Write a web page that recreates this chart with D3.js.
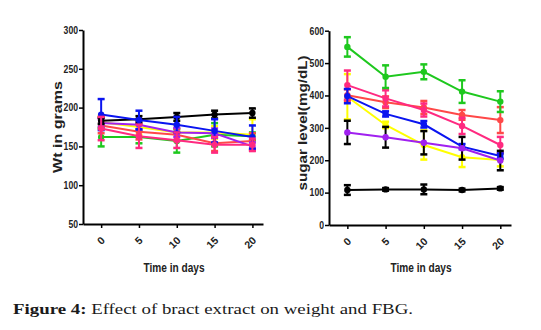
<!DOCTYPE html>
<html>
<head>
<meta charset="utf-8">
<script src="https://cdn.jsdelivr.net/npm/d3@7"></script>
<style>
  body { margin: 0; background: #fff; }
  svg { display: block; }
</style>
</head>
<body>
<div id="wrapper"></div>
<script>
// 1. Data
const days = [0, 5, 10, 15, 20]

// weight (g), mean and error
const wtBlack = [183, 185, 188, 191, 193]
const wtBlackErr = [4, 4, 5, 5, 6]
const wtBlue = [191, 184, 178, 170, 162]
const wtBlueErr = [20, 12, 10, 15, 15]
const wtYellow = [181, 175, 168, 168, 165]
const wtYellowErr = [8, 10, 10, 8, 20]
const wtPurple = [180, 178, 168, 167, 150]
const wtPurpleErr = [5, 6, 6, 6, 5]
const wtGreen = [162, 162, 157, 165, 163]
const wtGreenErr = [12, 8, 15, 15, 5]
const wtRed = [177, 169, 165, 154, 157]
const wtRedErr = [10, 10, 8, 10, 10]
const wtPink = [173, 163, 158, 152, 152]
const wtPinkErr = [15, 15, 10, 10, 8]

// sugar level (mg/dL), mean and error
const sgGreen = [550, 458, 473, 412, 381]
const sgGreenErr = [30, 35, 23, 35, 32]
const sgPink = [432, 391, 355, 306, 247]
const sgPinkErr = [45, 25, 20, 25, 25]
const sgRed = [401, 379, 363, 340, 324]
const sgRedErr = [18, 18, 20, 15, 40]
const sgBlue = [398, 343, 311, 242, 213]
const sgBlueErr = [22, 8, 10, 8, 8]
const sgYellow = [396, 309, 247, 209, 201]
const sgYellowErr = [70, 10, 45, 30, 20]
const sgPurple = [286, 271, 254, 237, 199]
const sgPurpleErr = [36, 32, 36, 35, 30]
const sgBlack = [108, 110, 110, 108, 113]
const sgBlackErr = [15, 4, 15, 4, 4]

const colors = {
  black: "#000000",
  blue: "#0a14f0",
  yellow: "#ffff00",
  purple: "#a020f0",
  green: "#1ec81e",
  red: "#ff4848",
  pink: "#ff2a80",
}

const wtSeries = [
  { color: colors.yellow, values: wtYellow, err: wtYellowErr },
  { color: colors.green, values: wtGreen, err: wtGreenErr },
  { color: colors.red, values: wtRed, err: wtRedErr },
  { color: colors.purple, values: wtPurple, err: wtPurpleErr },
  { color: colors.black, values: wtBlack, err: wtBlackErr },
  { color: colors.blue, values: wtBlue, err: wtBlueErr },
  { color: colors.pink, values: wtPink, err: wtPinkErr },
]

const sgSeries = [
  { color: colors.yellow, values: sgYellow, err: sgYellowErr },
  { color: colors.red, values: sgRed, err: sgRedErr },
  { color: colors.pink, values: sgPink, err: sgPinkErr },
  { color: colors.green, values: sgGreen, err: sgGreenErr },
  { color: colors.blue, values: sgBlue, err: sgBlueErr },
  { color: colors.purple, values: sgPurple, err: sgPurpleErr, errColor: colors.black },
  { color: colors.black, values: sgBlack, err: sgBlackErr },
]

// 2. Canvas
const width = 541
const height = 330

const svg = d3
  .select("#wrapper")
  .append("svg")
  .attr("width", width)
  .attr("height", height)

const axisFont = "'Liberation Sans', Arial, sans-serif"

function drawPanel(opts) {
  const g = svg.append("g")

  const xScale = d3
    .scaleLinear()
    .domain([-2.4, 21.4])
    .range([opts.left, opts.right])

  const yScale = d3
    .scaleLinear()
    .domain(opts.yDomain)
    .range([opts.bottom, opts.top])

  // axes
  const yAxis = g
    .append("g")
    .attr("transform", `translate(${opts.left},0)`)
    .call(d3.axisLeft(yScale).tickValues(opts.yTicks).tickSize(4).tickSizeOuter(0))
  const xAxis = g
    .append("g")
    .attr("transform", `translate(0,${opts.bottom})`)
    .call(d3.axisBottom(xScale).tickValues(days).tickSize(4).tickSizeOuter(0))

  ;[yAxis, xAxis].forEach((a) => {
    a.select(".domain").attr("stroke", "#000").attr("stroke-width", 2)
    a.selectAll(".tick line").attr("stroke", "#000").attr("stroke-width", 1.5)
    a.selectAll("text")
      .attr("fill", "#222")
      .style("font-family", axisFont)
      .style("font-weight", "bold")
      .style("font-size", "10.5px")
  })
  // narrow, condensed tick numbers
  yAxis
    .selectAll("text")
    .attr("x", -5)
    .attr("textLength", (d) => String(d).length * 4.8)
    .attr("lengthAdjust", "spacingAndGlyphs")
  xAxis
    .selectAll("text")
    .attr("text-anchor", "end")
    .attr("dy", 0)
    .attr("y", 0)
    .attr("transform", "translate(4,17) rotate(-45)")

  // series
  const line = d3
    .line()
    .x((d, i) => xScale(days[i]))
    .y((d) => yScale(d))

  opts.series.forEach((s) => {
    const sg = g.append("g")
    const ec = s.errColor || s.color
    // error bars
    s.values.forEach((v, i) => {
      const x = xScale(days[i])
      const y0 = yScale(v - s.err[i])
      const y1 = yScale(v + s.err[i])
      sg.append("line")
        .attr("x1", x).attr("x2", x).attr("y1", y0).attr("y2", y1)
        .attr("stroke", ec).attr("stroke-width", 2)
      ;[y0, y1].forEach((yy) => {
        sg.append("line")
          .attr("x1", x - 3.5).attr("x2", x + 3.5).attr("y1", yy).attr("y2", yy)
          .attr("stroke", ec).attr("stroke-width", 2.5)
      })
    })
    sg.append("path")
      .datum(s.values)
      .attr("d", line)
      .attr("fill", "none")
      .attr("stroke", s.color)
      .attr("stroke-width", 2)
    sg.selectAll("circle")
      .data(s.values)
      .join("circle")
      .attr("cx", (d, i) => xScale(days[i]))
      .attr("cy", (d) => yScale(d))
      .attr("r", 3.2)
      .attr("fill", s.color)
  })

  // labels
  g.append("text")
    .text("Time in days")
    .attr("x", (opts.left + opts.right) / 2 + 1)
    .attr("y", 272)
    .attr("text-anchor", "middle")
    .attr("textLength", 61)
    .attr("lengthAdjust", "spacingAndGlyphs")
    .style("font-family", axisFont)
    .style("font-weight", "bold")
    .style("font-size", "12px")
    .attr("fill", "#222")

  g.append("text")
    .text(opts.yLabel)
    .attr("transform", `translate(${opts.yLabelX},${opts.yLabelY}) rotate(-90)`)
    .attr("text-anchor", "middle")
    .attr("textLength", opts.yLabelLen)
    .attr("lengthAdjust", "spacingAndGlyphs")
    .style("font-family", axisFont)
    .style("font-weight", "bold")
    .style("font-size", "13px")
    .attr("fill", "#222")
}

drawPanel({
  left: 83,
  right: 263,
  top: 30,
  bottom: 224,
  yDomain: [50, 300],
  yTicks: [50, 100, 150, 200, 250, 300],
  series: wtSeries,
  yLabel: "Wt in grams",
  yLabelX: 62,
  yLabelY: 127,
  yLabelLen: 92,
})

drawPanel({
  left: 329,
  right: 511,
  top: 30.7,
  bottom: 225,
  yDomain: [0, 600],
  yTicks: [0, 100, 200, 300, 400, 500, 600],
  series: sgSeries,
  yLabel: "sugar level(mg/dL)",
  yLabelX: 307,
  yLabelY: 123,
  yLabelLen: 135,
})

// caption
const caption = svg
  .append("text")
  .attr("x", 13)
  .attr("y", 314)
  .style("font-family", "'Liberation Serif', 'DejaVu Serif', serif")
  .style("font-size", "15.5px")
  .attr("fill", "#1a1a1a")
caption.append("tspan").style("font-weight", "bold").text("Figure 4:")
caption.append("tspan").text(" Effect of bract extract on weight and FBG.")
caption.attr("textLength", 400).attr("lengthAdjust", "spacingAndGlyphs")
</script>
</body>
</html>
